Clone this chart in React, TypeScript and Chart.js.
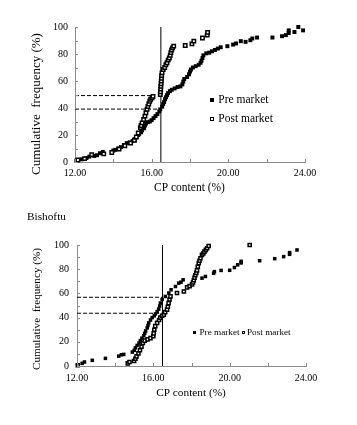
import React, { useEffect, useRef } from "react";
import { Chart, registerables } from "chart.js";

Chart.register(...registerables);

const FONT = '"Liberation Serif", "Times New Roman", serif';
const AXIS = "#8c8c8c";

const X_TITLE = "CP content (%)";
const Y_TITLE = "Cumulative  frequency (%)";
const SERIES = ["Pre market", "Post market"];
const HEADING2 = "Bishoftu";

const X_MIN = 12;
const X_MAX = 24;
const X_STEP = 2;
const X_LABEL_EVERY = 4;
const Y_MIN = 0;
const Y_MAX = 100;
const Y_STEP = 10;
const Y_LABEL_EVERY = 20;

// ---- Panel 1 data ----
const preMarket1: [number, number][] = [
  [12.07, 1], [12.35, 2], [12.6, 3], [12.75, 4], [13.0, 4.5], [13.15, 5], [13.3, 6.5], [13.45, 7.5],
  [14.0, 8.5], [14.1, 9], [14.25, 10], [14.4, 11], [14.55, 12.5], [14.7, 14], [14.85, 14.5], [15.0, 15.5],
  [15.1, 17], [15.2, 18.5], [15.3, 20], [15.35, 21], [15.45, 22], [15.5, 23.5], [15.6, 25], [15.65, 27],
  [15.7, 28.5], [15.8, 29.5], [15.9, 30], [16.0, 31], [16.1, 32.5], [16.2, 34], [16.3, 35.5], [16.4, 37.5],
  [16.45, 39], [16.55, 41], [16.6, 43], [16.65, 44.5], [16.7, 46.5], [16.75, 48], [16.8, 49.5], [16.85, 51],
  [16.95, 52.5], [17.05, 53.5], [17.2, 54.5], [17.35, 55.5], [17.5, 56], [17.6, 57.5], [17.65, 59.5], [17.7, 61.5],
  [17.85, 63], [17.95, 65], [18.0, 67], [18.05, 68.5], [18.15, 70], [18.3, 71], [18.45, 72], [18.55, 73.5],
  [18.6, 75], [18.65, 77], [18.7, 79], [18.85, 80.5], [19.0, 81], [19.15, 82], [19.3, 83], [19.45, 84],
  [19.6, 85], [19.95, 85.8], [20.25, 87], [20.4, 87.8], [20.65, 89.5], [20.9, 89], [21.15, 90.2], [21.25, 91.5],
  [21.5, 92.2], [22.3, 92.2], [22.8, 93.2], [23.0, 94], [23.15, 95.5], [23.15, 97.5], [23.45, 96.3], [23.65, 100],
  [23.9, 97.5],
];
const postMarket1: [number, number][] = [
  [12.15, 1.5], [12.5, 2.5], [12.87, 5.5], [13.5, 6], [13.92, 7], [14.3, 9.5], [14.6, 12], [14.9, 14],
  [15.1, 16], [15.2, 18.5], [15.3, 21.5], [15.41, 25.5], [15.45, 27], [15.5, 29], [15.58, 31.5], [15.65, 34],
  [15.7, 36.5], [15.76, 39], [15.8, 41], [15.85, 43], [15.9, 45], [15.95, 46.5], [16.02, 47.5], [16.07, 48.6],
  [16.45, 50], [16.46, 52], [16.47, 54], [16.48, 56], [16.49, 58], [16.5, 60], [16.51, 62], [16.52, 64],
  [16.54, 66], [16.6, 68.5], [16.68, 70], [16.74, 72], [16.8, 73.5], [16.86, 75.5], [16.92, 77], [16.97, 79],
  [17.0, 81], [17.04, 83], [17.09, 84.5], [17.15, 85.8], [17.75, 86.3], [18.1, 87.5], [18.2, 89.5], [18.65, 91.8],
  [18.9, 94], [18.92, 96],
];
const refLineX1 = 16.48;
const dashY1 = [49.2, 39.2];
const dashEndX1 = [16.06, 16.44];

// ---- Panel 2 data (Bishoftu) ----
const preMarket2: [number, number][] = [
  [12.27, 2.2], [12.39, 3.3], [12.8, 4.7], [13.49, 6.3], [14.19, 8.2], [14.33, 9.3], [14.45, 9.6], [14.9, 11.5],
  [15.0, 13], [15.06, 15], [15.15, 17], [15.25, 19], [15.32, 21], [15.4, 23], [15.5, 25], [15.55, 27],
  [15.6, 29], [15.68, 31.5], [15.72, 33.5], [15.76, 35.6], [15.85, 38], [15.94, 40], [16.05, 41.5], [16.11, 43],
  [16.2, 45], [16.28, 47], [16.33, 49.5], [16.37, 52], [16.46, 55], [16.63, 57.5], [16.81, 60.3], [16.93, 63],
  [17.16, 65.7], [17.33, 68.5], [17.45, 69.3], [17.56, 71.2], [18.55, 72.6], [18.73, 74], [19.16, 76.7], [19.2, 78],
  [19.55, 79], [20.0, 79.1], [20.25, 81.4], [20.42, 83.6], [20.6, 85.2], [20.6, 86.5], [21.57, 87], [22.36, 88.7],
  [22.83, 90.4], [23.14, 92.3], [23.14, 93.7], [23.53, 95.9],
];
const postMarket2: [number, number][] = [
  [12.04, 0.6], [14.66, 2.2], [14.75, 3.3], [14.99, 4.1], [15.06, 6], [15.12, 8], [15.22, 10.4], [15.3, 13],
  [15.38, 16], [15.45, 19], [15.55, 21], [15.7, 22], [15.85, 23], [16.0, 24.7], [16.02, 27], [16.05, 30],
  [16.1, 33], [16.2, 35.6], [16.3, 38], [16.37, 40], [16.46, 41.5], [16.55, 42.5], [16.62, 44.5], [16.72, 46.6],
  [16.76, 49], [16.8, 52], [16.85, 55], [16.9, 57.5], [17.24, 60.3], [17.6, 61.6], [17.77, 65], [17.9, 66],
  [18.03, 67.5], [18.08, 69], [18.12, 71], [18.16, 73], [18.2, 75], [18.25, 77], [18.29, 79], [18.33, 82],
  [18.38, 85], [18.42, 87], [18.47, 89], [18.55, 91.8], [18.62, 93], [18.68, 94.5], [18.75, 96], [18.82, 97.3],
  [18.9, 99.2], [21.05, 100],
];
const refLineX2 = 16.48;
const dashY2 = [56.8, 43.6];
const dashEndX2 = [16.48, 16.32];

const decorPlugin = {
  id: "decor",
  afterDraw(chart: any, _args: any, o: any) {
    const { ctx, chartArea: a } = chart;
    const xs = chart.scales.x;
    const ys = chart.scales.y;
    ctx.save();
    ctx.strokeStyle = AXIS;
    ctx.lineWidth = 1;
    ctx.beginPath();
    for (const t of xs.ticks) {
      const px = Math.round(xs.getPixelForValue(t.value)) + 0.5;
      ctx.moveTo(px, a.bottom);
      ctx.lineTo(px, a.bottom - 3);
    }
    for (const t of ys.ticks) {
      const py = Math.round(ys.getPixelForValue(t.value)) + 0.5;
      ctx.moveTo(a.left, py);
      ctx.lineTo(a.left + 3, py);
    }
    ctx.stroke();

    ctx.fillStyle = "#000";
    ctx.textBaseline = "middle";
    ctx.textAlign = "center";
    ctx.font = `${o.xTitle.size}px ${FONT}`;
    ctx.fillText(X_TITLE, o.xTitle.x, o.xTitle.y);

    ctx.save();
    ctx.translate(o.yTitle.x, o.yTitle.y);
    ctx.rotate(-Math.PI / 2);
    ctx.font = `${o.yTitle.size}px ${FONT}`;
    ctx.fillText(Y_TITLE, 0, 0);
    ctx.restore();

    if (o.heading) {
      ctx.textAlign = "left";
      ctx.font = `${o.heading.size}px ${FONT}`;
      ctx.fillText(o.heading.text, o.heading.x, o.heading.y);
    }

    const s = o.legend.box;
    ctx.font = `${o.legend.size}px ${FONT}`;
    ctx.textAlign = "left";
    o.legend.items.forEach((it: any, i: number) => {
      if (i === 0) {
        ctx.fillStyle = "#000";
        ctx.fillRect(Math.round(it.mx - s / 2), Math.round(it.my - s / 2), s, s);
      } else {
        ctx.strokeStyle = "#000";
        ctx.lineWidth = 1;
        ctx.strokeRect(Math.round(it.mx - s / 2) + 0.5, Math.round(it.my - s / 2) + 0.5, s - 1, s - 1);
      }
      ctx.fillStyle = "#000";
      ctx.fillText(SERIES[i], it.tx, it.my);
    });
    ctx.restore();
  },
};

function toPts(arr: [number, number][]) {
  return arr.map(([x, y]) => ({ x, y }));
}

function buildConfig(p: any) {
  const lineDs = (pts: any[], dash: number[]) => ({
    label: "",
    data: pts,
    showLine: true,
    pointRadius: 0,
    borderColor: "#000",
    borderWidth: 1,
    borderDash: dash,
    order: 2,
  });
  const datasets: any[] = [
    {
      label: SERIES[0],
      data: toPts(p.pre),
      pointStyle: "rect",
      pointRadius: p.r,
      backgroundColor: "#000",
      borderColor: "#000",
      borderWidth: 0,
      showLine: false,
      clip: false,
      order: 1,
    },
    {
      label: SERIES[1],
      data: toPts(p.post),
      pointStyle: "rect",
      pointRadius: p.r2,
      backgroundColor: "#fff",
      borderColor: "#000",
      borderWidth: 1.5,
      showLine: false,
      clip: false,
      order: 0,
    },
    lineDs([{ x: p.vx, y: Y_MIN }, { x: p.vx, y: Y_MAX }], []),
  ];
  p.dashY.forEach((yv: number, i: number) => {
    datasets.push(lineDs([{ x: X_MIN, y: yv }, { x: p.dashEnd[i], y: yv }], [4, 2]));
  });
  return {
    type: "scatter",
    data: { datasets },
    options: {
      responsive: false,
      animation: false,
      devicePixelRatio: 1,
      layout: { padding: { left: 0, top: p.area.top, right: p.area.right, bottom: 0 } },
      plugins: {
        legend: { display: false },
        tooltip: { enabled: false },
        decor: p.decor,
      },
      scales: {
        x: {
          type: "linear",
          min: X_MIN,
          max: X_MAX,
          grid: { display: false, drawTicks: false },
          border: { display: true, color: AXIS, width: 1 },
          ticks: {
            stepSize: X_STEP,
            autoSkip: false,
            maxRotation: 0,
            padding: p.xPad,
            color: "#000",
            font: { family: FONT, size: 10 },
            callback: (v: number) => (v % X_LABEL_EVERY === 0 ? v.toFixed(2) : ""),
          },
          afterFit: (s: any) => {
            s.height = p.area.xh;
          },
        },
        y: {
          type: "linear",
          min: Y_MIN,
          max: Y_MAX,
          grid: { display: false, drawTicks: false },
          border: { display: true, color: AXIS, width: 1 },
          ticks: {
            stepSize: Y_STEP,
            autoSkip: false,
            padding: p.yPad,
            color: "#000",
            font: { family: FONT, size: 10 },
            callback: (v: number) => (v % Y_LABEL_EVERY === 0 ? String(v) : ""),
          },
          afterFit: (s: any) => {
            s.width = p.area.left;
          },
        },
      },
    },
    plugins: [decorPlugin],
  };
}

const panel1 = {
  pre: preMarket1,
  post: postMarket1,
  vx: refLineX1,
  dashY: dashY1,
  dashEnd: dashEndX1,
  r: 2.8,
  r2: 2.4,
  xPad: 5,
  yPad: 7,
  area: { left: 75, top: 27, right: 52, xh: 38 },
  decor: {
    xTitle: { x: 189.5, y: 188, size: 11.5 },
    yTitle: { x: 36.7, y: 104, size: 13 },
    legend: {
      box: 4,
      size: 11.5,
      items: [
        { mx: 212.3, my: 99.5, tx: 218.3 },
        { mx: 212.3, my: 119, tx: 218.3 },
      ],
    },
  },
};

const panel2 = {
  pre: preMarket2,
  post: postMarket2,
  vx: refLineX2,
  dashY: dashY2,
  dashEnd: dashEndX2,
  r: 2.5,
  r2: 2.2,
  xPad: 6,
  yPad: 8,
  area: { left: 77, top: 45, right: 51, xh: 59 },
  decor: {
    xTitle: { x: 191, y: 192.7, size: 11.3 },
    yTitle: { x: 36.7, y: 109, size: 11.2 },
    heading: { text: HEADING2, x: 27, y: 17, size: 11.3 },
    legend: {
      box: 3,
      size: 9.2,
      items: [
        { mx: 194.3, my: 132.5, tx: 199.5 },
        { mx: 243.8, my: 132.5, tx: 247 },
      ],
    },
  },
};

function Panel({ cfg, top, height }: { cfg: any; top: number; height: number }) {
  const ref = useRef<HTMLCanvasElement | null>(null);
  useEffect(() => {
    if (!ref.current) return;
    const chart = new Chart(ref.current, buildConfig(cfg) as any);
    return () => chart.destroy();
  }, [cfg]);
  return (
    <canvas
      ref={ref}
      width={357}
      height={height}
      style={{ position: "absolute", left: 0, top, width: 357, height, display: "block" }}
    />
  );
}

export default function App() {
  return (
    <div style={{ position: "absolute", left: 0, top: 0, width: 357, height: 425, background: "#fff" }}>
      <Panel cfg={panel1} top={0} height={200} />
      <Panel cfg={panel2} top={200} height={225} />
    </div>
  );
}
